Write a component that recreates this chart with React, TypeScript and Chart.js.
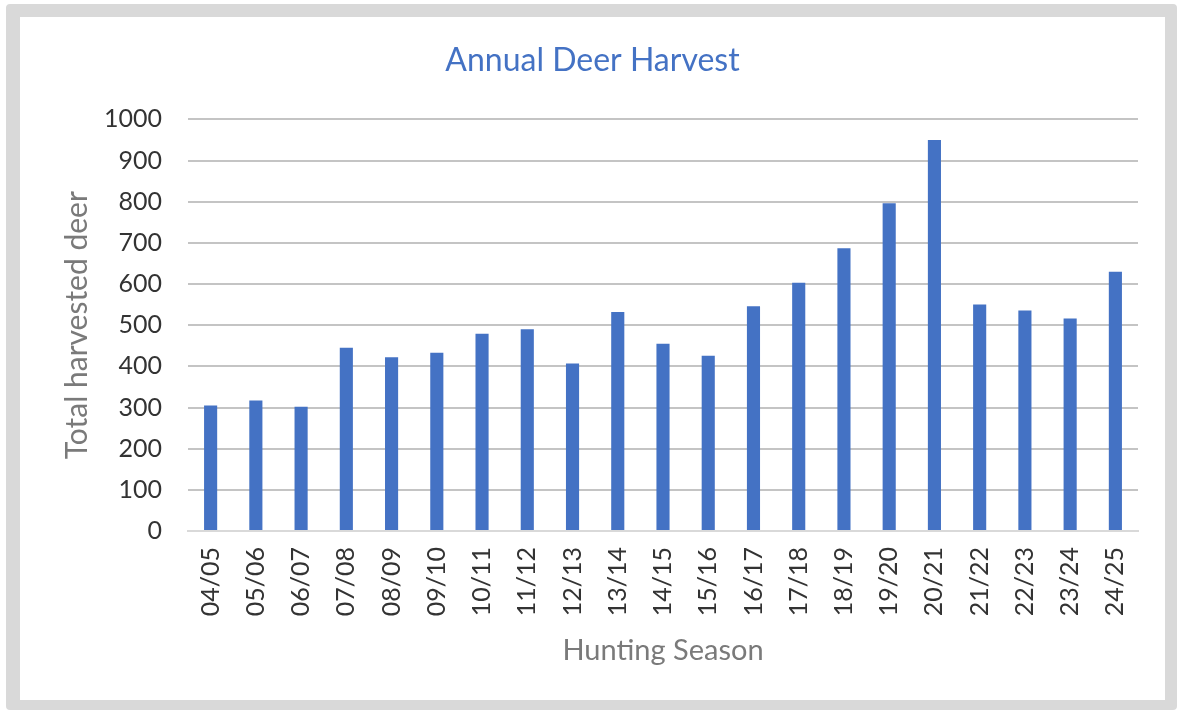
import React, { useEffect, useRef } from "react";
import { Chart, registerables } from "chart.js";

Chart.register(...registerables);

const seasons = [
  "04/05", "05/06", "06/07", "07/08", "08/09", "09/10", "10/11", "11/12",
  "12/13", "13/14", "14/15", "15/16", "16/17", "17/18", "18/19", "19/20",
  "20/21", "21/22", "22/23", "23/24", "24/25",
];
const harvested = [
  305, 317, 302, 445, 422, 433, 479, 490, 407, 532, 455, 426, 546, 603, 687,
  796, 950, 550, 536, 516, 630,
];
const yMin = 0;
const yMax = 1000;
const yStep = 100;

const FONT = "Lato, 'Noto Sans', sans-serif";

export default function App() {
  const canvasRef = useRef<HTMLCanvasElement | null>(null);

  useEffect(() => {
    if (!canvasRef.current) return;
    const chart = new Chart(canvasRef.current, {
      type: "bar",
      data: {
        labels: seasons,
        datasets: [
          {
            label: "Total harvested deer",
            data: harvested,
            backgroundColor: "#4472C4",
            borderWidth: 0,
            barPercentage: 0.29,
            categoryPercentage: 1,
          },
        ],
      },
      options: {
        animation: false,
        responsive: true,
        maintainAspectRatio: false,
        layout: { padding: { left: 0, right: 0, top: 0, bottom: 0 } },
        plugins: {
          legend: { display: false },
          tooltip: { enabled: false },
          title: {
            display: true,
            text: "Annual Deer Harvest",
            color: "#4472C4",
            font: { family: FONT, size: 32, weight: "normal" },
            padding: { top: 24, bottom: 40 },
          },
        },
        scales: {
          x: {
            grid: { display: false, drawTicks: false },
            border: { display: true, color: "#d9d9d9", width: 2 },
            ticks: {
              color: "#333333",
              font: { family: FONT, size: 25 },
              minRotation: 90,
              maxRotation: 90,
              autoSkip: false,
              padding: 16,
            },
            title: {
              display: true,
              text: "Hunting Season",
              color: "#7a7a7a",
              font: { family: FONT, size: 29 },
              padding: { top: 0, bottom: 32 },
            },
            afterFit: (scale: any) => {
              scale.height = 169;
            },
          },
          y: {
            min: yMin,
            max: yMax,
            ticks: {
              stepSize: yStep,
              color: "#333333",
              font: { family: FONT, size: 25 },
              padding: 26,
              callback: (v: any) => String(v),
            },
            grid: { color: "#c4c4c4", lineWidth: 2, drawTicks: false },
            border: { display: false },
            title: {
              display: true,
              text: "Total harvested deer",
              color: "#7a7a7a",
              font: { family: FONT, size: 30 },
              padding: { top: 39, bottom: 0 },
            },
            afterFit: (scale: any) => {
              scale.width = 168;
            },
          },
          yRight: {
            position: "right",
            min: yMin,
            max: yMax,
            grid: { display: false, drawTicks: false },
            border: { display: false },
            ticks: { display: false },
            afterFit: (scale: any) => {
              scale.width = 27;
            },
          },
        },
      },
    });
    return () => chart.destroy();
  }, []);

  return (
    <div
      style={{
        position: "absolute",
        left: 6,
        top: 4,
        width: 1171,
        height: 706,
        boxSizing: "border-box",
        borderStyle: "solid",
        borderColor: "#d9d9d9",
        borderWidth: "13px 12px 10px 14px",
        borderRadius: 4,
        background: "#ffffff",
      }}
    >
      <div style={{ position: "relative", width: 1145, height: 683 }}>
        <canvas ref={canvasRef} />
      </div>
    </div>
  );
}
